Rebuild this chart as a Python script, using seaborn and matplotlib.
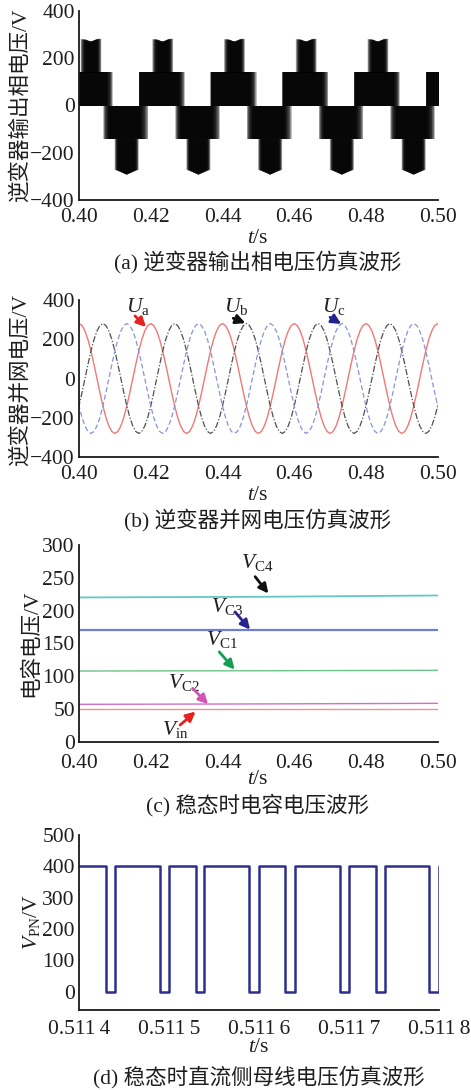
import numpy as np
import pandas as pd
import seaborn as sns
import matplotlib
matplotlib.use("Agg")
import matplotlib.pyplot as plt
from matplotlib.ticker import FixedLocator, FixedFormatter

# ---------------- data ----------------
# (a) inverter output phase voltage: PWM bands (start/end times in s)
a_level_mid = 140
a_level_top = [283, 272, 285]      # top edge of upper positive band (left, centre, right)
a_level_bot = [-270, -290, -270]   # bottom edge of lower negative band
a_phi_start = [0.4003, 0.4203, 0.4403, 0.4603, 0.4803]
a_phi_end = [0.4061, 0.4261, 0.4461, 0.4661, 0.4861]
a_plo_start = [0.3966, 0.4166, 0.4366, 0.4566, 0.4766, 0.4966]
a_plo_end = [0.4095, 0.4295, 0.4495, 0.4695, 0.4895, 0.5095]
a_nlo_start = [0.4068, 0.4268, 0.4468, 0.4668, 0.4868]
a_nlo_end = [0.4193, 0.4393, 0.4593, 0.4793, 0.4993]
a_nhi_start = [0.4098, 0.4298, 0.4498, 0.4698, 0.4898]
a_nhi_end = [0.4165, 0.4365, 0.4565, 0.4765, 0.4965]

# (b) grid voltages: one cycle sampled every 15 deg, and time of first peak
b_cycle = [280, 270, 242, 198, 140, 72, 0, -72, -140, -198, -242, -270,
           -280, -270, -242, -198, -140, -72, 0, 72, 140, 198, 242, 270]
b_period = 0.02
b_names = ["Ua", "Ub", "Uc"]
b_peak = [0.40, 0.40667, 0.41333]

# (c) capacitor voltages
c_t = [0.40, 0.45, 0.50]
c_vc4 = [220, 221, 223]
c_vc3 = [170, 170, 170]
c_vc1 = [107.8, 108.2, 108.9]
c_vc2 = [57, 57.6, 58.5]
c_vin = [50, 50, 50]

# (d) DC-link voltage switching edges
d_t = [0.51140, 0.5114296, 0.51144, 0.51149, 0.51150, 0.5115296, 0.5115393,
       0.5115893, 0.51160, 0.5116293, 0.51164, 0.51169, 0.51170, 0.5117296,
       0.5117404, 0.5117893, 0.5117996]
d_v = [400, 0, 400, 0, 400, 0, 400, 0, 400, 0, 400, 0, 400, 0, 400, 0, 400]
d_ticks = [0.5114, 0.5115, 0.5116, 0.5117, 0.5118]
d_ticklabels = ["0.511\u20094", "0.511\u20095", "0.511\u20096", "0.511\u20097", "0.511\u20098"]

t_ticks = [0.40, 0.42, 0.44, 0.46, 0.48, 0.50]
t_ticklabels = ["0.40", "0.42", "0.44", "0.46", "0.48", "0.50"]

# ---------------- style ----------------
sns.set_style("white")
plt.rcParams["font.family"] = ["Liberation Serif", "Noto Sans CJK SC"]
plt.rcParams["mathtext.fontset"] = "custom"
plt.rcParams["mathtext.rm"] = "Liberation Serif"
plt.rcParams["mathtext.it"] = "Liberation Serif:italic"
plt.rcParams["axes.unicode_minus"] = True
TXT = "#1e1e1e"
plt.rcParams["text.color"] = TXT
FS = 15.5

fig = plt.figure(figsize=(4.71, 10.90), dpi=100)
W, H = 471, 1090


def rect(l, t, r, b):
    return [l / W, 1 - b / H, (r - l) / W, (b - t) / H]


axA = fig.add_axes(rect(79, 11, 437.7, 200))
axB = fig.add_axes(rect(79, 300, 437.7, 457))
axC = fig.add_axes(rect(79, 545, 437.7, 741.7))
axD = fig.add_axes(rect(79, 835, 439, 1010))


def style(ax, xpad=6):
    for s in ["top", "right"]:
        ax.spines[s].set_visible(False)
    for s in ["left", "bottom"]:
        ax.spines[s].set_linewidth(1.3)
        ax.spines[s].set_color("#1a1a1a")
    ax.tick_params(direction="in", length=5, width=1.1, labelsize=FS,
                   colors="#1a1a1a", labelcolor=TXT)
    ax.tick_params(axis="x", pad=xpad)
    ax.tick_params(axis="y", pad=3)
    ax.set_facecolor("white")
    ax.set_xlabel("")
    ax.set_ylabel("")


def fig_label(x, y, s, rot=0, size=FS):
    fig.text(x / W, 1 - y / H, s, ha="center", va="center", rotation=rot,
             fontsize=size, color=TXT)


# ---------------- (a) ----------------
def block(ax, s, e, low, high, fade_l, fade_r, n=12, alpha=0.24):
    m = 0.5 * (s + e)
    for i in range(n):
        f = i / (n - 1)
        si, ei = s + fade_l * f, e - fade_r * f
        ax.fill_between([si, m, ei], low, high, color="black", alpha=alpha,
                        linewidth=0)


for s, e in zip(a_plo_start, a_plo_end):
    block(axA, s, e, [0, 0, 0], [a_level_mid] * 3, 0.0004, 0.0018)
for s, e in zip(a_phi_start, a_phi_end):
    block(axA, s, e, [a_level_mid] * 3, a_level_top, 0.0013, 0.0012)
for s, e in zip(a_nlo_start, a_nlo_end):
    block(axA, s, e, [-a_level_mid] * 3, [0, 0, 0], 0.0016, 0.0022)
for s, e in zip(a_nhi_start, a_nhi_end):
    block(axA, s, e, a_level_bot, [-a_level_mid] * 3, 0.0010, 0.0010)

axA.set_xlim(0.40, 0.50)
axA.set_ylim(-400, 400)
axA.set_yticks([-400, -200, 0, 200, 400])
axA.xaxis.set_major_locator(FixedLocator(t_ticks))
axA.xaxis.set_major_formatter(FixedFormatter(t_ticklabels))
style(axA)

# ---------------- (b) ----------------
b_rows = []
n_rep = 7
for name, tp in zip(b_names, b_peak):
    t = tp - b_period + np.arange(len(b_cycle) * n_rep + 1) * (b_period / len(b_cycle))
    v = np.tile(b_cycle, n_rep + 1)[: len(t)]
    b_rows.append(pd.DataFrame({"t": t, "v": v, "phase": name}))
dfB = pd.concat(b_rows, ignore_index=True)

b_styles = {
    "Ua": dict(color="#f07878", lw=1.0, ls="-"),
    "Ub": dict(color="#505050", lw=0.9, ls=(0, (5, 1.5, 1, 1.5))),
    "Uc": dict(color="#8595d6", lw=0.9, ls=(0, (4, 2.2))),
}
for name in b_names:
    st = b_styles[name]
    sns.lineplot(data=dfB[dfB.phase == name], x="t", y="v", ax=axB,
                 estimator=None, sort=False, color=st["color"],
                 linewidth=st["lw"], linestyle=st["ls"])

axB.set_xlim(0.40, 0.50)
axB.set_ylim(-400, 400)
axB.set_yticks([-400, -200, 0, 200, 400])
axB.xaxis.set_major_locator(FixedLocator(t_ticks))
axB.xaxis.set_major_formatter(FixedFormatter(t_ticklabels))
style(axB)


def arrow(ax, tail, tip, color):
    ax.annotate("", xy=tip, xytext=tail,
                arrowprops=dict(arrowstyle="-|>", color=color, lw=2.0,
                                mutation_scale=14, shrinkA=0, shrinkB=0))


axB.text(0.4131, 341, r"$U_{\mathrm{a}}$", fontsize=FS, ha="left", va="baseline")
axB.text(0.4404, 341, r"$U_{\mathrm{b}}$", fontsize=FS, ha="left", va="baseline")
axB.text(0.4677, 341, r"$U_{\mathrm{c}}$", fontsize=FS, ha="left", va="baseline")
arrow(axB, (0.4156, 319), (0.4187, 262), "#e52222")
arrow(axB, (0.4430, 307), (0.4464, 282), "#111111")
arrow(axB, (0.4700, 312), (0.4731, 278), "#23238c")

# ---------------- (c) ----------------
dfC = pd.DataFrame({"t": c_t, "VC4": c_vc4, "VC3": c_vc3, "VC1": c_vc1,
                    "VC2": c_vc2, "Vin": c_vin})
c_styles = {
    "VC4": ("#62c8c8", 1.3),
    "VC3": ("#6f7fd0", 1.6),
    "VC1": ("#6cc48a", 1.0),
    "VC2": ("#cc70cc", 1.0),
    "Vin": ("#f09090", 1.0),
}
for col, (c, lw) in c_styles.items():
    sns.lineplot(data=dfC, x="t", y=col, ax=axC, estimator=None, sort=False,
                 color=c, linewidth=lw)

axC.set_xlim(0.40, 0.50)
axC.set_ylim(0, 300)
axC.set_yticks([0, 50, 100, 150, 200, 250, 300])
axC.xaxis.set_major_locator(FixedLocator(t_ticks))
axC.xaxis.set_major_formatter(FixedFormatter(t_ticklabels))
style(axC, xpad=8.5)

axC.text(0.4451, 264.5, r"$V_{\mathrm{C4}}$", fontsize=FS, ha="left", va="baseline")
axC.text(0.4367, 198.3, r"$V_{\mathrm{C3}}$", fontsize=FS, ha="left", va="baseline")
axC.text(0.4354, 147.5, r"$V_{\mathrm{C1}}$", fontsize=FS, ha="left", va="baseline")
axC.text(0.4247, 81.4, r"$V_{\mathrm{C2}}$", fontsize=FS, ha="left", va="baseline")
axC.text(0.4231, 10.2, r"$V_{\mathrm{in}}$", fontsize=FS, ha="left", va="baseline")
arrow(axC, (0.4491, 251.7), (0.4528, 226), "#111111")
arrow(axC, (0.4435, 198), (0.4477, 171), "#25258c")
arrow(axC, (0.4391, 137), (0.4434, 110), "#12a050")
arrow(axC, (0.4317, 81.4), (0.4360, 57), "#d055b5")
arrow(axC, (0.4282, 25.5), (0.4325, 46), "#e82020")

# ---------------- (d) ----------------
dfD = pd.DataFrame({"t": d_t + [d_ticks[-1]], "v": d_v + [d_v[-1]]})
sns.lineplot(data=dfD, x="t", y="v", ax=axD, estimator=None, sort=False,
             drawstyle="steps-post", color="#2e2e8e", linewidth=1.8)
axD.set_xlim(d_ticks[0], d_ticks[-1])
axD.set_ylim(-59, 500)
axD.set_yticks([0, 100, 200, 300, 400, 500])
axD.xaxis.set_major_locator(FixedLocator(d_ticks))
axD.xaxis.set_major_formatter(FixedFormatter(d_ticklabels))
style(axD, xpad=7)

# ---------------- labels ----------------
fig_label(20, 105.5, "逆变器输出相电压/V", rot=90)
fig_label(20, 380, "逆变器并网电压/V", rot=90)
fig_label(31, 643, "电容电压/V", rot=90)
fig_label(31, 922, r"$V_{\mathrm{PN}}$/V", rot=90)

fig_label(258, 238, r"$t$/s")
fig_label(258, 496, r"$t$/s")
fig_label(258, 779, r"$t$/s")
fig_label(259, 1048, r"$t$/s")

fig_label(258, 262, "(a) 逆变器输出相电压仿真波形")
fig_label(258, 520, "(b) 逆变器并网电压仿真波形")
fig_label(258, 805, "(c) 稳态时电容电压波形")
fig_label(259, 1077, "(d) 稳态时直流侧母线电压仿真波形")

fig.savefig("out.png", dpi=100, facecolor="white")
